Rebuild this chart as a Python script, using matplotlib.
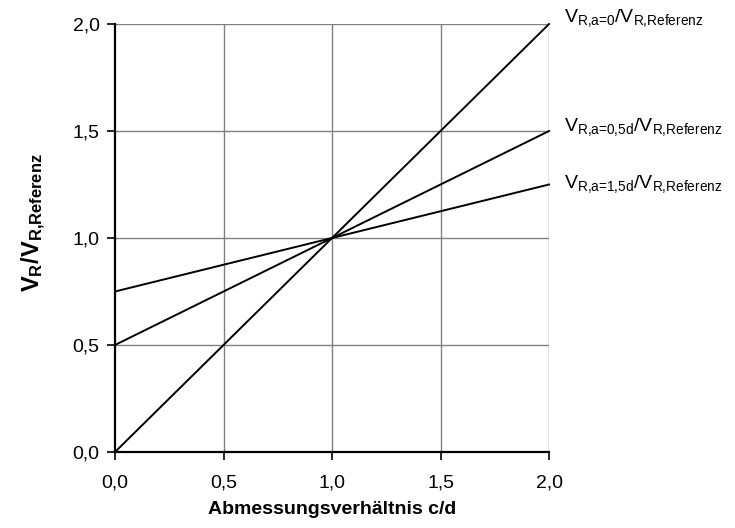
import matplotlib
matplotlib.use("Agg")
import matplotlib.pyplot as plt
import numpy as np

plt.rcParams["font.family"] = ["Liberation Sans", "DejaVu Sans"]
plt.rcParams["mathtext.fontset"] = "custom"
plt.rcParams["mathtext.rm"] = "Liberation Sans"
plt.rcParams["mathtext.it"] = "Liberation Sans"
plt.rcParams["mathtext.bf"] = "Liberation Sans:bold"

# Verhaeltnis c/d und bezogene Querkraft fuer drei Abstaende a
cd = [0.0, 2.0]
v_a0 = [0.0, 2.0]
v_a05 = [0.5, 1.5]
v_a15 = [0.75, 1.25]
beschriftung = [
    r"$\mathrm{V}_{\text{R,a=0}}/\mathrm{V}_{\text{R,Referenz}}$",
    r"$\mathrm{V}_{\text{R,a=0,5d}}/\mathrm{V}_{\text{R,Referenz}}$",
    r"$\mathrm{V}_{\text{R,a=1,5d}}/\mathrm{V}_{\text{R,Referenz}}$",
]
ticks = [0.0, 0.5, 1.0, 1.5, 2.0]
tick_labels = ["0,0", "0,5", "1,0", "1,5", "2,0"]

fig = plt.figure(figsize=(7.35, 5.28), dpi=100)
ax = fig.add_axes([0.1565, 0.144, 0.5905, 0.8105])

for yy in ticks[1:]:
    ax.axhline(yy, color="#808080", lw=1.0, zorder=1)
for xx in ticks[1:]:
    ax.axvline(xx, color="#808080", lw=1.0, zorder=1)

for serie in (v_a0, v_a05, v_a15):
    ax.plot(cd, serie, color="black", lw=1.4, zorder=3, clip_on=False)

ax.set_xlim(0, 2.0)
ax.set_ylim(0, 2.0)
ax.set_xticks(ticks)
ax.set_xticklabels(tick_labels)
ax.set_yticks(ticks)
ax.set_yticklabels(tick_labels)
ax.tick_params(direction="out", length=6, width=1.2, labelsize=14)
ax.tick_params(axis="x", pad=10)
ax.tick_params(axis="y", pad=5)

ax.spines["top"].set_visible(False)
ax.spines["right"].set_visible(False)
ax.spines["left"].set_linewidth(1.6)
ax.spines["bottom"].set_linewidth(1.6)

ax.set_xlabel("Abmessungsverhältnis c/d", fontsize=14, fontweight="bold", labelpad=7)
ax.set_ylabel(r"$\mathbf{V_R/V_{R{,}Referenz}}$", fontsize=17)
ax.yaxis.set_label_coords(-0.155, 0.537)

for txt, serie, dy in zip(beschriftung, (v_a0, v_a05, v_a15), (0.03, 0.02, 0.0)):
    ax.text(2.07, serie[-1] + dy, txt, fontsize=14, va="center", ha="left")

plt.savefig("out.png", dpi=100)
plt.close()
